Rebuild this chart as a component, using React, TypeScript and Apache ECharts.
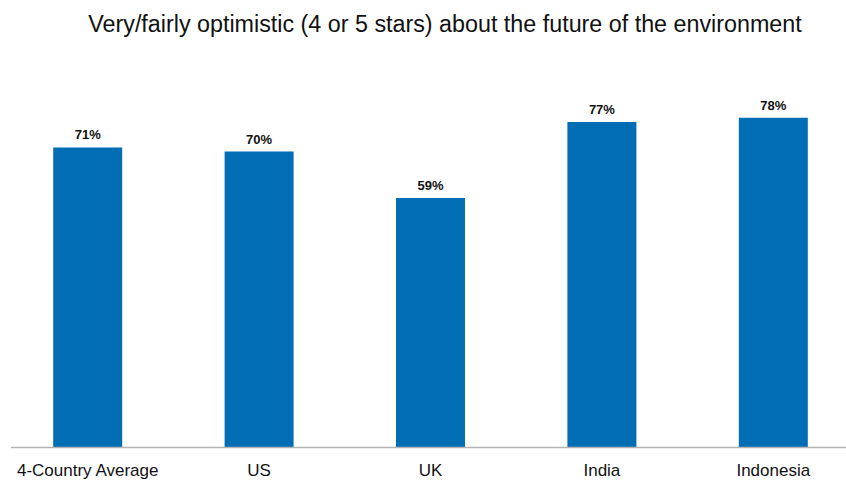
import React, { useEffect, useRef } from "react";
import * as echarts from "echarts";

const categories = ["4-Country Average", "US", "UK", "India", "Indonesia"];
const values = [71, 70, 59, 77, 78];
const titleText = "Very/fairly optimistic (4 or 5 stars) about the future of the environment";

export default function App() {
  const ref = useRef<HTMLDivElement>(null);
  useEffect(() => {
    if (!ref.current) return;
    const chart = echarts.init(ref.current, null, { renderer: "svg" });
    chart.setOption({
      animation: false,
      backgroundColor: "#ffffff",
      title: {
        text: titleText,
        left: 440,
        textAlign: "center",
        top: 7,
        textStyle: {
          fontFamily: "Liberation Sans",
          fontSize: 23.3,
          fontWeight: "normal",
          color: "#111111",
        },
      },
      grid: {
        left: 2,
        width: 857,
        top: 25,
        height: 422,
        containLabel: false,
        outerBoundsMode: "none",
      },
      xAxis: {
        type: "category",
        data: categories,
        axisLine: { show: false },
        axisTick: { show: false },
        axisLabel: {
          fontFamily: "Liberation Sans",
          fontSize: 17,
          lineHeight: 17,
          color: "#111111",
          margin: 15,
          interval: 0,
          hideOverlap: false,
        },
      },
      yAxis: {
        type: "value",
        min: 0,
        max: 100,
        show: false,
        splitLine: { show: false },
      },
      graphic: [
        {
          type: "line",
          shape: { x1: 11, y1: 447.5, x2: 846, y2: 447.5 },
          style: { stroke: "#b3b3b3", lineWidth: 1.5 },
          z: 10,
        },
      ],
      series: [
        {
          type: "bar",
          data: values,
          barWidth: 69,
          itemStyle: { color: "#006db5" },
          label: {
            show: true,
            position: "top",
            distance: 6,
            formatter: "{c}%",
            fontFamily: "Liberation Sans",
            fontSize: 13,
            fontWeight: "bold",
            color: "#111111",
          },
        },
      ],
    });
    return () => chart.dispose();
  }, []);
  return <div ref={ref} style={{ width: 846, height: 481, position: "absolute", left: 0, top: 0 }} />;
}
